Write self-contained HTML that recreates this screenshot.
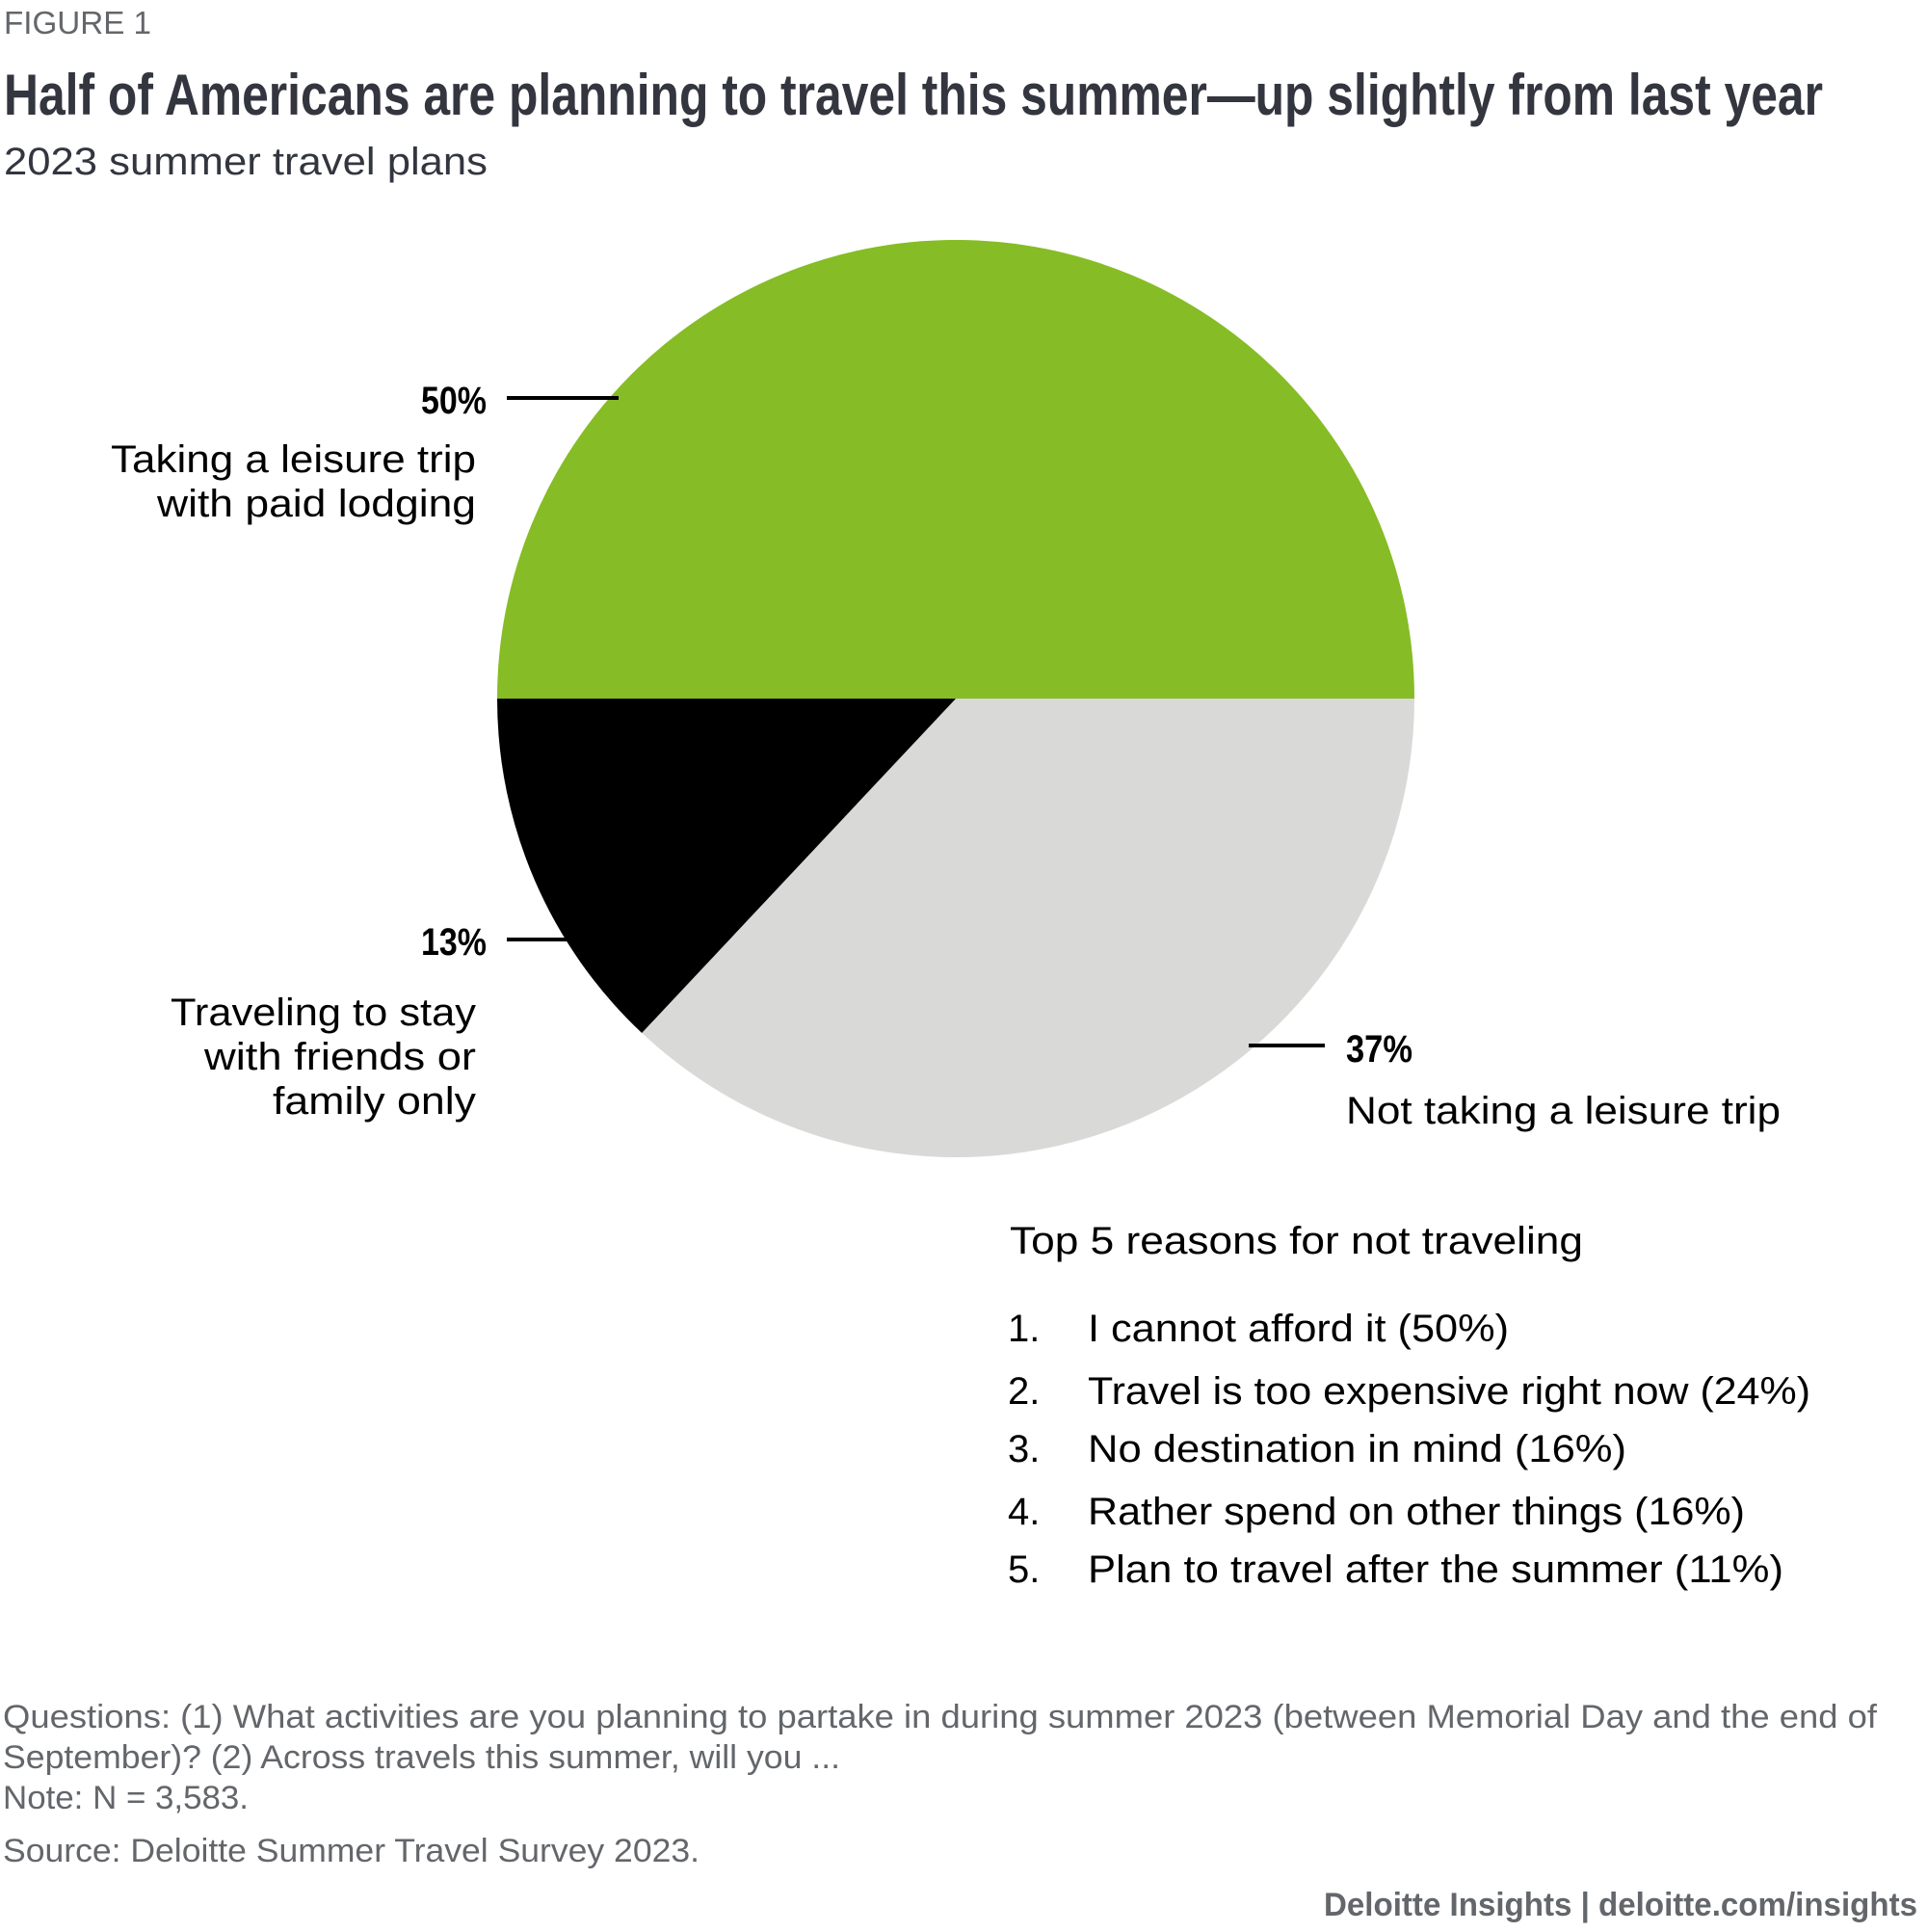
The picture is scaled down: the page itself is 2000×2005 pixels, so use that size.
<!DOCTYPE html>
<html><head><meta charset="utf-8"><style>
html,body{margin:0;padding:0;background:#fff;}
svg{display:block;}
text{font-family:"Liberation Sans",sans-serif;}
</style></head><body>
<svg id="chart" width="2000" height="2005" viewBox="0 0 2000 2005">
<text x="4" y="35" font-size="33" fill="#63666a" textLength="153" lengthAdjust="spacingAndGlyphs">FIGURE 1</text>
<text x="4" y="119" font-size="60" font-weight="bold" fill="#33363f" textLength="1888" lengthAdjust="spacingAndGlyphs">Half of Americans are planning to travel this summer—up slightly from last year</text>
<text x="4" y="181" font-size="40" fill="#33363f" textLength="502" lengthAdjust="spacingAndGlyphs">2023 summer travel plans</text>
<g id="pie"></g>
<g transform="translate(0,3)">
<g>
<line x1="526" y1="410" x2="642" y2="410" stroke="#000" stroke-width="4"/>
<text x="437" y="426" font-size="40" font-weight="bold" fill="#000" textLength="68" lengthAdjust="spacingAndGlyphs">50%</text>
<text x="115" y="487" font-size="40" fill="#000" textLength="379" lengthAdjust="spacingAndGlyphs">Taking a leisure trip</text>
<text x="163" y="533" font-size="40" fill="#000" textLength="331" lengthAdjust="spacingAndGlyphs">with paid lodging</text>
</g>
<g>
<line x1="526" y1="972" x2="594" y2="972" stroke="#000" stroke-width="4"/>
<text x="437" y="988" font-size="40" font-weight="bold" fill="#000" textLength="68" lengthAdjust="spacingAndGlyphs">13%</text>
<text x="177" y="1061" font-size="40" fill="#000" textLength="317" lengthAdjust="spacingAndGlyphs">Traveling to stay</text>
<text x="212" y="1107" font-size="40" fill="#000" textLength="282" lengthAdjust="spacingAndGlyphs">with friends or</text>
<text x="283" y="1153" font-size="40" fill="#000" textLength="211" lengthAdjust="spacingAndGlyphs">family only</text>
</g>
<g>
<line x1="1296" y1="1082" x2="1375" y2="1082" stroke="#000" stroke-width="4"/>
<text x="1397" y="1099" font-size="40" font-weight="bold" fill="#000" textLength="69" lengthAdjust="spacingAndGlyphs">37%</text>
<text x="1397" y="1163" font-size="40" fill="#000" textLength="451" lengthAdjust="spacingAndGlyphs">Not taking a leisure trip</text>
</g>
<g>
<text x="1048" y="1298" font-size="40" fill="#000" textLength="595" lengthAdjust="spacingAndGlyphs">Top 5 reasons for not traveling</text>
<text x="1046" y="1389" font-size="40" fill="#000">1.</text><text x="1129" y="1389" font-size="40" fill="#000" textLength="437" lengthAdjust="spacingAndGlyphs">I cannot afford it (50%)</text>
<text x="1046" y="1454" font-size="40" fill="#000">2.</text><text x="1129" y="1454" font-size="40" fill="#000" textLength="750" lengthAdjust="spacingAndGlyphs">Travel is too expensive right now (24%)</text>
<text x="1046" y="1514" font-size="40" fill="#000">3.</text><text x="1129" y="1514" font-size="40" fill="#000" textLength="559" lengthAdjust="spacingAndGlyphs">No destination in mind (16%)</text>
<text x="1046" y="1579" font-size="40" fill="#000">4.</text><text x="1129" y="1579" font-size="40" fill="#000" textLength="682" lengthAdjust="spacingAndGlyphs">Rather spend on other things (16%)</text>
<text x="1046" y="1639" font-size="40" fill="#000">5.</text><text x="1129" y="1639" font-size="40" fill="#000" textLength="722" lengthAdjust="spacingAndGlyphs">Plan to travel after the summer (11%)</text>
</g>
<g fill="#63666a" font-size="34">
<text x="3" y="1790" textLength="1945" lengthAdjust="spacingAndGlyphs">Questions: (1) What activities are you planning to partake in during summer 2023 (between Memorial Day and the end of</text>
<text x="3" y="1832" textLength="869" lengthAdjust="spacingAndGlyphs">September)? (2) Across travels this summer, will you ...</text>
<text x="3" y="1874" textLength="255" lengthAdjust="spacingAndGlyphs">Note: N = 3,583.</text>
<text x="3" y="1929" textLength="723" lengthAdjust="spacingAndGlyphs">Source: Deloitte Summer Travel Survey 2023.</text>
</g>
<text x="1374" y="1985" font-size="34" font-weight="bold" fill="#63666a" textLength="616" lengthAdjust="spacingAndGlyphs">Deloitte Insights | deloitte.com/insights</text>
</g>
</svg>
<script>
const categories = ["Taking a leisure trip with paid lodging", "Not taking a leisure trip", "Traveling to stay with friends or family only"];
const values = [50, 37, 13];
const colors = ["#86bc25", "#d9dad8", "#000000"];
const cx = 992, cy = 725, r = 476;
const total = values.reduce((a, b) => a + b, 0);
const g = document.getElementById('pie');
let ang = Math.PI;
values.forEach((v, i) => {
  const sweep = v / total * 2 * Math.PI;
  const a0 = ang, a1 = ang + sweep;
  const x0 = cx + r * Math.cos(a0), y0 = cy + r * Math.sin(a0);
  const x1 = cx + r * Math.cos(a1), y1 = cy + r * Math.sin(a1);
  const large = sweep > Math.PI ? 1 : 0;
  const p = document.createElementNS('http://www.w3.org/2000/svg', 'path');
  p.setAttribute('d', `M${cx},${cy} L${x0},${y0} A${r},${r} 0 ${large} 1 ${x1},${y1} Z`);
  p.setAttribute('fill', colors[i]);
  
  
  g.appendChild(p);
  ang = a1;
});
</script>
</body></html>
